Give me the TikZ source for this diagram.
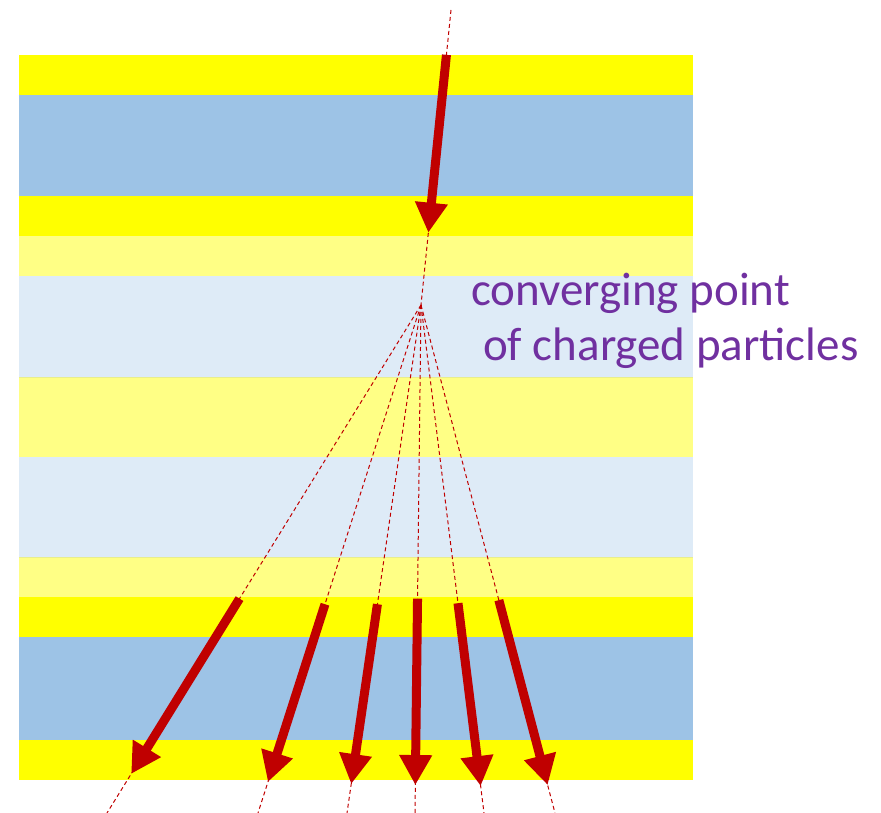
\documentclass[tikz,border=0pt]{standalone}
\usepackage{fontspec}
\setmainfont{Carlito}
\usetikzlibrary{arrows.meta,calc}
\definecolor{strongyellow}{HTML}{FFFF00}
\definecolor{strongblue}{HTML}{9DC3E6}
\definecolor{paleyellow}{HTML}{FFFF85}
\definecolor{paleblue}{HTML}{DEEBF7}
\definecolor{paleedge}{HTML}{E9EE8C}
\definecolor{trackred}{HTML}{C00000}
\definecolor{notepurple}{HTML}{7030A0}

\begin{document}
\begin{tikzpicture}[
        x=1pt, y=-1pt,
        track/.style={draw=trackred, line width=1pt, dash pattern=on 4pt off 3pt},
        particle/.style={draw=trackred, line width=9pt, -{Triangle[length=30pt,width=31pt]}},
        note/.style={text=notepurple, font=\fontsize{47}{55}\selectfont, align=left, inner sep=0pt}
    ]
        \useasboundingbox (0,0) rectangle (881,813);

        % layers of the stack
        \foreach \ytop/\ybot/\col in {55/95/strongyellow, 95/196/strongblue, 196/236/strongyellow,
                236/276/paleyellow, 276/377/paleblue, 377/457/paleyellow, 457/557/paleblue,
                557/597/paleyellow, 597/637/strongyellow, 637/740/strongblue, 740/780/strongyellow}
            \fill [\col] (19,\ytop) rectangle (693,\ybot);
        \draw [paleedge, line width=1pt] (19,377.5) -- (693,377.5);
        \draw [paleedge, line width=1pt] (19,557.5) -- (693,557.5);

        \coordinate (src) at (451,10);
        \coordinate (conv) at (421,305);

        % incoming particle
        \coordinate (in tail) at ($(src)!0.152!(conv)$);
        \coordinate (in tip) at ($(src)!0.755!(conv)$);
        \path [track] (src) -- (conv);
        \path [particle] (in tail) -- (in tip);

        % outgoing particles
        \foreach \i/\ex/\ta/\tb in {1/107/0.578/0.923, 2/258/0.589/0.939, 3/347/0.589/0.943,
                4/415/0.578/0.945, 5/484/0.587/0.947, 6/555/0.581/0.945} {
            \coordinate (out\i) at (\ex,813);
            \coordinate (tail\i) at ($(conv)!\ta!(out\i)$);
            \coordinate (tip\i) at ($(conv)!\tb!(out\i)$);
            \path [track] (conv) -- (out\i);
            \path [particle] (tail\i) -- (tip\i);
        }

        \node [note, anchor=base west] (caption) at (471,360) {converging point\\\hspace*{12pt}of charged particles};
    \end{tikzpicture}
\end{document}
